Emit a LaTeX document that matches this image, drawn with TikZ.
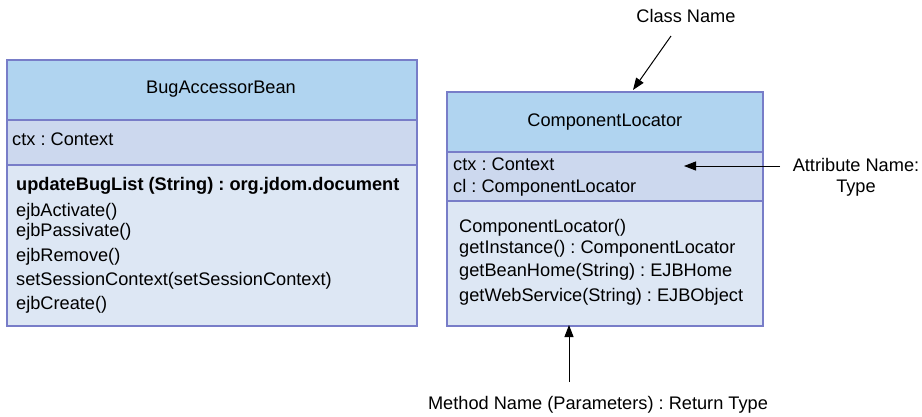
\documentclass[tikz,border=0pt]{standalone}
\usepackage{fontspec}
\setmainfont{Liberation Sans}
\usetikzlibrary{arrows.meta,positioning}
\frenchspacing

\definecolor{headblue}{RGB}{176,212,240}
\definecolor{attrblue}{RGB}{204,216,238}
\definecolor{methblue}{RGB}{221,231,244}
\definecolor{umlborder}{RGB}{120,125,200}

\tikzset{
  compartment/.style={draw=umlborder, line width=1.7pt, inner sep=0pt, anchor=north west},
  headbox/.style={compartment, fill=headblue},
  attrbox/.style={compartment, fill=attrblue},
  methbox/.style={compartment, fill=methblue},
  member/.style={anchor=west, inner sep=0pt, text height=13pt, text depth=4pt},
  note/.style={align=center, inner sep=1pt},
  pointer/.style={-{Triangle[length=12pt,width=9pt]}, line width=1pt, black}
}

\begin{document}
\begin{tikzpicture}[x=1pt, y=-1pt, font=\fontsize{18.2}{21}\selectfont]
  \useasboundingbox (0,0) rectangle (922,416);

  % BugAccessorBean
  \node[headbox, minimum width=410pt, minimum height=60pt] (bughead) at (6,59) {};
  \node[attrbox, minimum width=410pt, minimum height=45pt] (bugattr) at (6,119) {};
  \node[methbox, minimum width=410pt, minimum height=161pt] (bugmeth) at (6,164) {};
  \node (bugname) at (221,89) {BugAccessorBean};
  \node[member] (bugctx) at (12,141) {ctx : Context};
  \node[member] (bugm1) at (16,186) {\bfseries updateBugList (String) : org.jdom.document};
  \node[member] (bugm2) at (16,212) {ejbActivate()};
  \node[member] (bugm3) at (16,232) {ejbPassivate()};
  \node[member] (bugm4) at (16,257) {ejbRemove()};
  \node[member] (bugm5) at (16,281) {setSessionContext(setSessionContext)};
  \node[member] (bugm6) at (16,305) {ejbCreate()};

  % ComponentLocator
  \node[headbox, minimum width=316pt, minimum height=60pt] (clhead) at (446,91) {};
  \node[attrbox, minimum width=316pt, minimum height=49pt] (clattr) at (446,151) {};
  \node[methbox, minimum width=316pt, minimum height=125pt] (clmeth) at (446,200) {};
  \node (clname) at (clhead.center) {ComponentLocator};
  \node[member] (clctx) at (453,166) {ctx : Context};
  \node[member] (clcl) at (453,188) {cl : ComponentLocator};
  \node[member] (clm1) at (459,228) {ComponentLocator()};
  \node[member] (clm2) at (459,249) {getInstance() : ComponentLocator};
  \node[member] (clm3) at (459,272) {getBeanHome(String) : EJBHome};
  \node[member] (clm4) at (459,297) {getWebService(String) : EJBObject};

  % annotations
  \node[note] (classlbl) at (686,16) {Class Name};
  \node[note] (attrlbl) at (856,177) {Attribute Name:\\Type};
  \node[note] (methlbl) at (598,405) {Method Name (Parameters) : Return Type};

  \coordinate (classfrom) at (671,36);
  \coordinate (classto) at (633,90);
  \coordinate (attrfrom) at (780,166);
  \coordinate (attrto) at (684,166);
  \coordinate (methfrom) at (569,382);
  \coordinate (methto) at (569,325);

  \draw[pointer] (classfrom) -- (classto);
  \draw[pointer] (attrfrom) -- (attrto);
  \draw[pointer] (methfrom) -- (methto);
\end{tikzpicture}
\end{document}
